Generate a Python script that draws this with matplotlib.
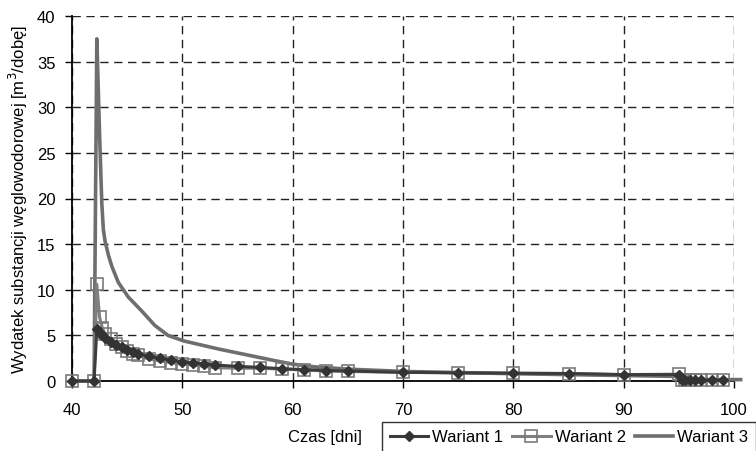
import matplotlib
matplotlib.use("Agg")
import matplotlib.pyplot as plt
from matplotlib.lines import Line2D

plt.rcParams['font.family'] = ['Liberation Sans', 'DejaVu Sans']

# Wariant 1 (diamonds)
v1_x = [40, 42, 42.25, 42.5, 42.75, 43, 43.5, 44, 44.5, 45, 45.5, 46, 47, 48, 49, 50,
        51, 52, 53, 55, 57, 59, 61, 63, 65, 70, 75, 80, 85, 90, 95,
        95.3, 95.6, 96, 96.5, 97, 98, 99]
v1_y = [0, 0, 5.7, 5.3, 5.0, 4.7, 4.3, 4.0, 3.7, 3.4, 3.2, 3.0, 2.7, 2.5, 2.3, 2.1,
        2.0, 1.85, 1.75, 1.6, 1.5, 1.35, 1.25, 1.15, 1.1, 0.95, 0.9, 0.85, 0.82, 0.7, 0.7,
        0.1, 0.1, 0.1, 0.1, 0.1, 0.1, 0.1]

# Wariant 2 (open squares)
v2_x = [40, 42, 42.25, 42.5, 42.75, 43, 43.5, 44, 44.5, 45, 45.5, 46, 47, 48, 49, 50,
        51, 52, 53, 55, 57, 59, 61, 63, 65, 70, 75, 80, 85, 90, 95,
        95.3, 95.6, 96, 96.5, 97, 98, 99]
v2_y = [0, 0, 10.6, 7.0, 5.8, 5.2, 4.6, 4.1, 3.7, 3.3, 3.0, 2.8, 2.4, 2.2, 2.0, 1.85,
        1.75, 1.6, 1.45, 1.4, 1.4, 1.3, 1.2, 1.1, 1.05, 0.95, 0.9, 0.85, 0.82, 0.7, 0.75,
        0.1, 0.1, 0.1, 0.1, 0.1, 0.1, 0.1]

# Wariant 3 (line only)
v3_x = [40, 42, 42.25, 42.5, 42.7, 42.84, 43.0, 43.3, 43.6, 44.2, 45.1, 46.3, 47.5, 48.7,
        50.1, 53.3, 56.9, 58.5, 60, 62, 65, 70, 80, 90, 95, 95.3, 100.6]
v3_y = [0, 0, 37.5, 27.0, 19.5, 16.6, 15.3, 13.8, 12.6, 10.8, 9.2, 7.7, 6.1, 5.0,
        4.4, 3.5, 2.6, 2.2, 1.85, 1.55, 1.3, 1.05, 0.8, 0.6, 0.5, 0.15, 0.15]

x_ticks = [40, 50, 60, 70, 80, 90, 100]
y_ticks = [0, 5, 10, 15, 20, 25, 30, 35, 40]

FS = 12
W, H = 756, 452
fig = plt.figure(figsize=(W / 100, H / 100), dpi=100)
ax = fig.add_axes([72 / W, 1 - 382 / H, (734 - 72) / W, (382 - 17) / H])

ax.plot(v3_x, v3_y, color='#6e6e6e', lw=2.6, zorder=3, clip_on=False)
ax.plot(v2_x, v2_y, color='#808080', lw=2.2, marker='s', ms=9,
        mfc='none', mec='#7a7a7a', mew=1.2, zorder=4, clip_on=False)
ax.plot(v1_x, v1_y, color='#3c3c3c', lw=2.2, marker='D', ms=5.5,
        mfc='#333333', mec='#333333', zorder=5, clip_on=False)

ax.set_xlim(40, 100)
ax.set_ylim(0, 40)
ax.set_xticks(x_ticks)
ax.set_yticks(y_ticks)
ax.grid(True, color='#222222', linestyle=(0, (6, 4)), lw=1.0)
ax.set_axisbelow(True)
for s in ['top', 'right']:
    ax.spines[s].set_visible(False)
for s in ['left', 'bottom']:
    ax.spines[s].set_color('black')
    ax.spines[s].set_linewidth(1.3)
ax.tick_params(axis='both', direction='out', length=5, width=1, labelsize=FS,
               colors='black')
ax.tick_params(axis='x', pad=10)
ax.tick_params(axis='y', pad=7)

ax.set_ylabel('Wydatek substancji węglowodorowej [m$^3$/dobę]', fontsize=12)
ax.yaxis.set_label_coords(-0.064, 0.5)

fig.text(362 / W, 1 - 438 / H, 'Czas [dni]', ha='right', va='center', fontsize=FS)

handles = [
    Line2D([], [], color='#3c3c3c', lw=2.2, marker='D', ms=5.5, mfc='#333333', mec='#333333'),
    Line2D([], [], color='#808080', lw=2.2, marker='s', ms=9, mfc='none', mec='#7a7a7a', mew=1.2),
    Line2D([], [], color='#6e6e6e', lw=2.6),
]
leg = fig.legend(handles, ['Wariant 1', 'Wariant 2', 'Wariant 3'], ncol=3,
                 loc='upper left', bbox_to_anchor=(382 / W, 1 - 423 / H),
                 bbox_transform=fig.transFigure, fontsize=FS, frameon=True,
                 fancybox=False, handlelength=2.3, handletextpad=0.25,
                 columnspacing=0.55, borderpad=0.45, borderaxespad=0)
leg.get_frame().set_edgecolor('black')
leg.get_frame().set_linewidth(1.0)

fig.savefig('out.png', dpi=100)
